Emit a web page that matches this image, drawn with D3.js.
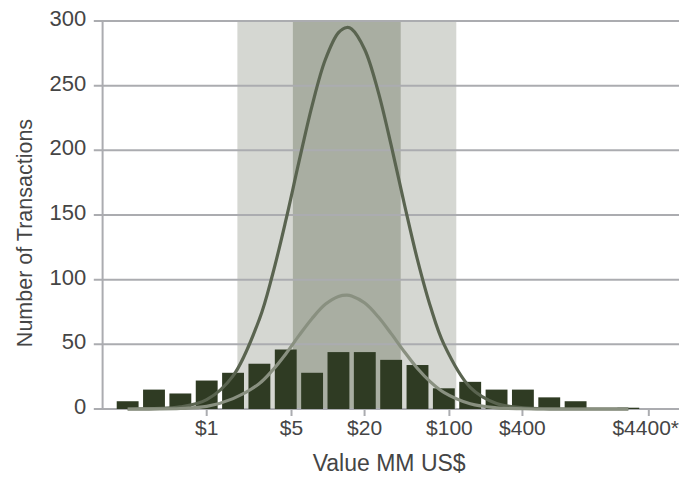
<!DOCTYPE html>
<html>
<head>
<meta charset="utf-8">
<script src="https://d3js.org/d3.v7.min.js"></script>
<style>
    body { margin: 0; background: #fff; }
    text { font-family: "Liberation Sans", Arial, sans-serif; fill: #454545; }
</style>
</head>
<body>
<div id="chart"></div>
<script>
// histogram bins, lower edge in ln(MM US$), width 0.5
const binLow = [-1.75, -1.25, -0.75, -0.25, 0.25, 0.75, 1.25, 1.75, 2.25, 2.75,
                3.25, 3.75, 4.25, 4.75, 5.25, 5.75, 6.25, 6.75, 7.25, 7.75];
const binCounts = [6, 15, 12, 22, 28, 35, 46, 28, 44, 44, 38, 34, 16, 21, 15, 15, 9, 6, 0, 1];

// curves (x in ln MM US$)
const curveLn = [-1.5, -1, -0.5, 0, 0.5, 1, 1.25, 1.5, 1.75, 2, 2.25, 2.5, 2.66, 2.75,
                 3, 3.25, 3.5, 3.75, 4, 4.25, 4.5, 5, 5.5, 6, 6.5, 7, 7.5, 8];
const tallCurve = [0, 0.3, 1.6, 7.2, 25.6, 69.5, 104, 145.6, 191, 234.6, 270, 291, 295, 293.8,
                   277.8, 246, 204, 158.5, 115.3, 78.6, 50.2, 16.8, 4.3, 0.9, 0.1, 0, 0, 0];
const fitCurve = [0, 0.1, 0.4, 2, 8, 19.7, 30, 42.6, 56.7, 70, 80.9, 87, 88, 87.4,
                  81.9, 71.5, 58.3, 44.3, 31.3, 20.8, 12.8, 4, 0.9, 0.2, 0, 0, 0, 0];

// shaded ranges in MM US$
const twoSdBand = [1.79, 114];
const oneSdBand = [5.13, 39.7];

const xTickValues = [1, 5, 20, 100, 400, 4400];
const xTickLabels = ["$1", "$5", "$20", "$100", "$400", "$4400*"];
const yTickValues = [0, 50, 100, 150, 200, 250, 300];

const margin = {top: 21, right: -2, bottom: 68, left: 101.3};
const W = 679, H = 477;
const width = W - margin.left - margin.right;
const height = H - margin.top - margin.bottom;

const svg = d3.select("#chart").append("svg")
    .attr("width", W)
    .attr("height", H)
    .append("g")
    .attr("transform", `translate(${margin.left}, ${margin.top})`);

const x = d3.scaleLog().base(Math.E)
    .domain([Math.exp(-2), Math.exp(9)])
    .range([0, width]);

const y = d3.scaleLinear()
    .domain([0, 300])
    .range([height, 0]);

const gridColor = "#abacb0";

// shaded bands
svg.append("rect")
    .attr("x", x(twoSdBand[0]))
    .attr("width", x(twoSdBand[1]) - x(twoSdBand[0]))
    .attr("y", 0).attr("height", height)
    .attr("fill", "#d5d7d2");
svg.append("rect")
    .attr("x", x(oneSdBand[0]))
    .attr("width", x(oneSdBand[1]) - x(oneSdBand[0]))
    .attr("y", 0).attr("height", height)
    .attr("fill", "#a9aea2");

// gridlines + y labels
svg.selectAll(".grid")
    .data(yTickValues)
    .enter().append("line")
    .attr("class", "grid")
    .attr("x1", -7.5).attr("x2", W - margin.left)
    .attr("y1", d => y(d)).attr("y2", d => y(d))
    .attr("stroke", gridColor)
    .attr("stroke-width", 2);

svg.append("line")
    .attr("x1", 1.3).attr("x2", 1.3)
    .attr("y1", 0).attr("y2", height)
    .attr("stroke", gridColor)
    .attr("stroke-width", 2);

svg.selectAll(".ylab")
    .data(yTickValues)
    .enter().append("text")
    .attr("class", "ylab")
    .attr("x", -15)
    .attr("y", d => y(d) + 5)
    .attr("text-anchor", "end")
    .style("font-size", "22px")
    .text(d => d);

// x ticks
svg.selectAll(".xtick")
    .data(xTickValues)
    .enter().append("line")
    .attr("class", "xtick")
    .attr("x1", d => x(d)).attr("x2", d => x(d))
    .attr("y1", height).attr("y2", height + 7)
    .attr("stroke", gridColor)
    .attr("stroke-width", 2);

svg.selectAll(".xlab")
    .data(xTickValues)
    .enter().append("text")
    .attr("class", "xlab")
    .attr("x", d => x(d))
    .attr("y", height + 26)
    .attr("text-anchor", "middle")
    .style("font-size", "21px")
    .text((d, i) => xTickLabels[i])
    .each(function() {
        // keep the last label inside the picture
        let box = this.getBBox();
        let over = box.x + box.width - (W - margin.left);
        if (over > 0) d3.select(this).attr("x", +d3.select(this).attr("x") - over);
    });

// bars
const bins = binLow.map((lo, i) => ({lo: lo, count: binCounts[i]}));
svg.selectAll(".bar")
    .data(bins.filter(d => d.count > 0))
    .enter().append("rect")
    .attr("class", "bar")
    .attr("x", d => {
        let x0 = x(Math.exp(d.lo)), x1 = x(Math.exp(d.lo + 0.5));
        return x0 + (x1 - x0) * 0.085;
    })
    .attr("width", d => (x(Math.exp(d.lo + 0.5)) - x(Math.exp(d.lo))) * 0.83)
    .attr("y", d => y(d.count))
    .attr("height", d => height - y(d.count))
    .attr("fill", "#2f3b23");

// curves
const line = d3.line()
    .x(d => x(Math.exp(d[0])))
    .y(d => y(d[1]))
    .curve(d3.curveCatmullRom);

svg.append("path")
    .datum(curveLn.map((l, i) => [l, tallCurve[i]]))
    .attr("d", line)
    .attr("fill", "none")
    .attr("stroke", "#5a6450")
    .attr("stroke-width", 3.2);

svg.append("path")
    .datum(curveLn.map((l, i) => [l, fitCurve[i]]))
    .attr("d", line)
    .attr("fill", "none")
    .attr("stroke", "#899080")
    .attr("stroke-width", 3.2);

// axis titles
svg.append("text")
    .attr("x", (W - margin.left) / 2 - 1)
    .attr("y", height + 62)
    .attr("text-anchor", "middle")
    .style("font-size", "23px")
    .text("Value MM US$");

svg.append("text")
    .attr("transform", `translate(${-margin.left + 32}, ${height / 2 + 18}) rotate(-90)`)
    .attr("text-anchor", "middle")
    .style("font-size", "21.5px")
    .text("Number of Transactions");
</script>
</body>
</html>
